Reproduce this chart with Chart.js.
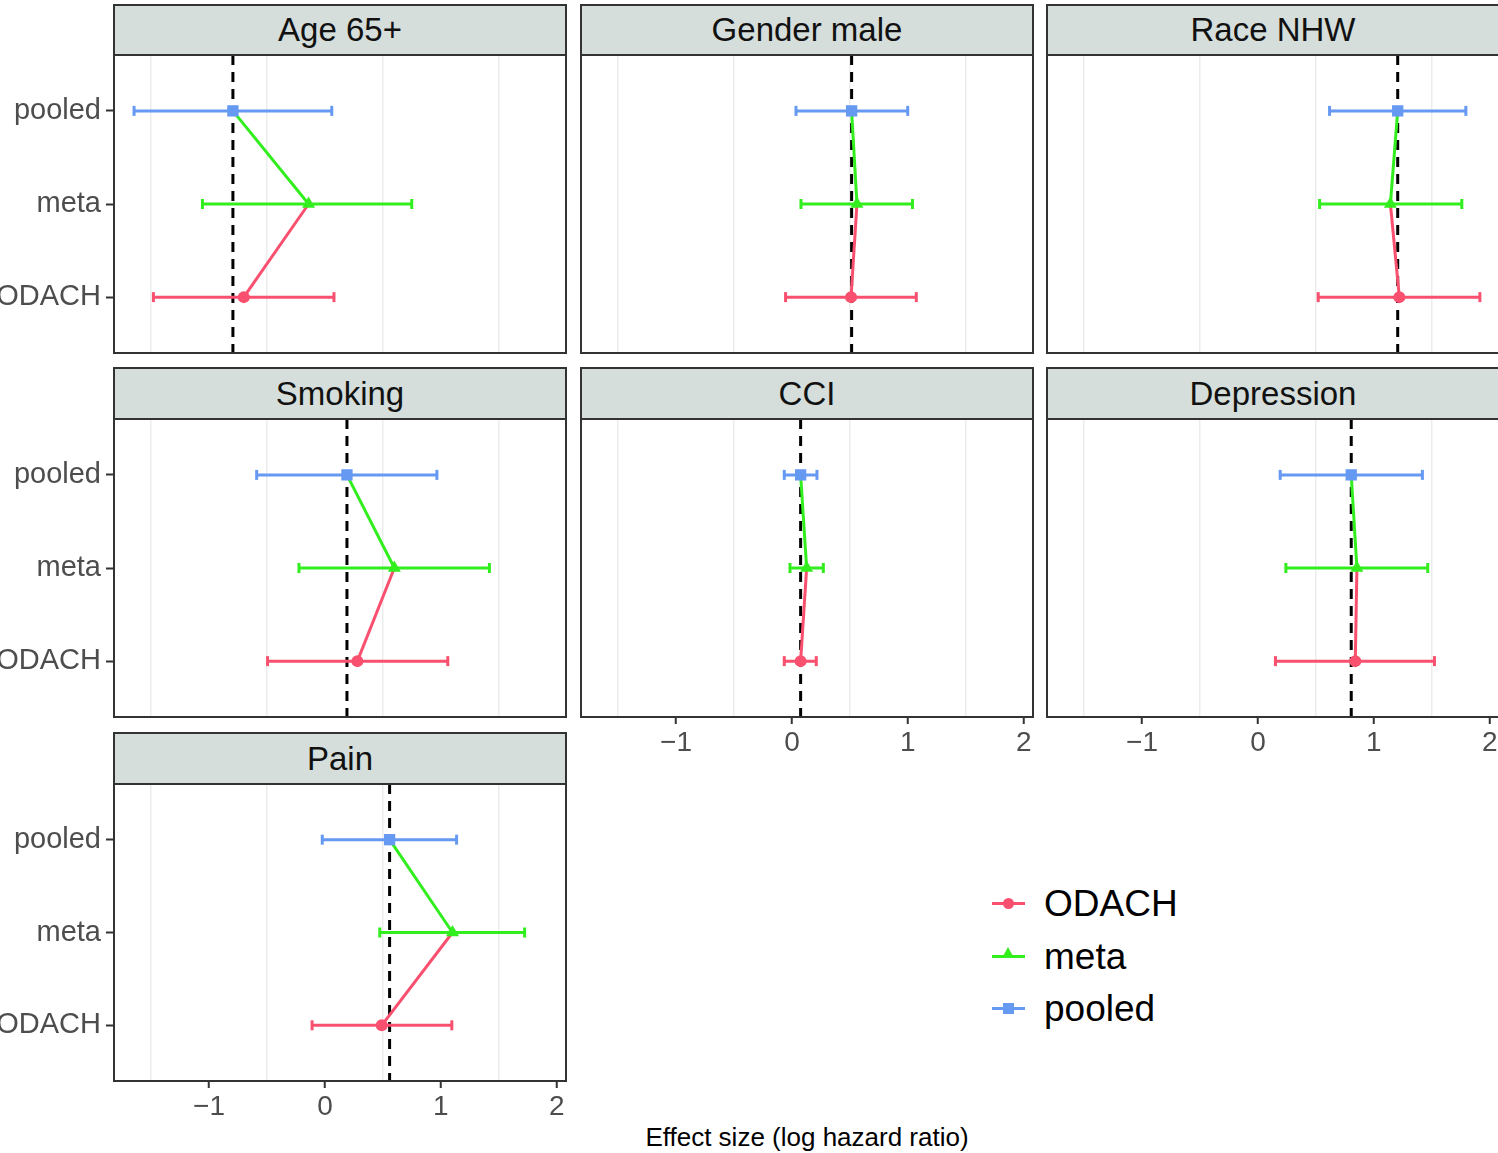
<!DOCTYPE html>
<html>
<head>
<meta charset="utf-8">
<script src="https://cdn.jsdelivr.net/npm/chart.js@4.4.1/dist/chart.umd.min.js"></script>
<style>
    body { margin: 0; background: #fff; width: 1498px; height: 1153px; position: relative; overflow: hidden;
           font-family: "Liberation Sans", Arial, sans-serif; }
    .strip { position: absolute; box-sizing: border-box; background: #D5DEDB; border: 2px solid #333;
             text-align: center; font-size: 33px; color: #111; }
    .panel { position: absolute; }
    .legend { position: absolute; left: 992px; top: 878px; }
    .legend .row { position: relative; height: 52.5px; }
    .legend .key { position: absolute; left: 0; top: 24px; width: 33px; height: 3px; }
    .legend .mk { position: absolute; }
    .legend .txt { position: absolute; left: 52px; top: 4px; font-size: 37px; color: #000; line-height: 44px; }
    .xtitle { position: absolute; left: 581px; width: 452px; top: 1122px; text-align: center; font-size: 26px; color: #000; }
</style>
</head>
<body>
<div class="legend" id="legend"></div>
<div class="xtitle">Effect size (log hazard ratio)</div>
<script>
document.addEventListener('DOMContentLoaded', function () {

    // Datos (log hazard ratio)
    const panelNames = ['Age 65+', 'Gender male', 'Race NHW', 'Smoking', 'CCI', 'Depression', 'Pain'];
    const methods    = ['pooled', 'meta', 'ODACH'];
    const xTicks     = [-1.5, -1, -0.5, 0, 0.5, 1, 1.5, 2];

    const odachEst  = [-0.70,  0.51,  1.22,  0.28,  0.075, 0.84,  0.49];
    const odachLo   = [-1.48, -0.055, 0.52, -0.495, -0.066, 0.151, -0.111];
    const odachHi   = [ 0.078, 1.073, 1.915, 1.06,  0.21,  1.523,  1.095];

    const metaEst   = [-0.141, 0.561, 1.143, 0.599, 0.127, 0.854, 1.101];
    const metaLo    = [-1.057, 0.078, 0.532, -0.224, -0.017, 0.241, 0.473];
    const metaHi    = [ 0.749, 1.04,  1.759, 1.419, 0.271, 1.465, 1.723];

    const pooledEst = [-0.794, 0.515, 1.206, 0.19,  0.075, 0.805, 0.558];
    const pooledLo  = [-1.647, 0.035, 0.618, -0.589, -0.066, 0.192, -0.023];
    const pooledHi  = [ 0.059, 0.999, 1.794, 0.966, 0.216, 1.419, 1.136];

    const red   = '#F8506E';
    const green = '#33EE1E';
    const blue  = '#6699F2';

    // Layout de facetas
    const colLeft    = [114, 581, 1047];
    const stripTop   = [4, 367, 732];
    const plotTop    = [55, 419, 784];
    const plotBottom = [353, 717, 1081];
    const plotW = 452;

    Chart.defaults.font.family = '"Liberation Sans", Arial, sans-serif';
    Chart.defaults.animation = false;

    const panelBorder = {
        id: 'panelBorder',
        afterDatasetsDraw: function (chart) {
            const a = chart.chartArea;
            const ctx = chart.ctx;
            ctx.save();
            ctx.strokeStyle = '#333';
            ctx.lineWidth = 2;
            ctx.strokeRect(a.left, a.top, a.right - a.left, a.bottom - a.top);
            ctx.restore();
        }
    };

    function errorBar(lo, hi, y, color) {
        return {
            data: [{ x: lo, y: y }, { x: hi, y: y }],
            showLine: true,
            borderColor: color,
            borderWidth: 3,
            pointStyle: 'line',
            pointRotation: 90,
            pointRadius: 5,
            pointBorderWidth: 3,
            pointBorderColor: color,
            order: 1
        };
    }

    function point(x, y, color, style, r) {
        return {
            data: [{ x: x, y: y }],
            pointStyle: style,
            pointRadius: r,
            backgroundColor: color,
            borderColor: color,
            pointBorderWidth: 0,
            order: 0
        };
    }

    panelNames.forEach(function (name, i) {
        const col = i % 3;
        const row = Math.floor(i / 3);
        const isLeft = col === 0;
        const isBottom = i >= 4;

        // Encabezado (strip)
        const strip = document.createElement('div');
        strip.className = 'strip';
        strip.style.left = (colLeft[col] - 1) + 'px';
        strip.style.width = (plotW + 2) + 'px';
        strip.style.top = stripTop[row] + 'px';
        const sh = plotTop[row] - stripTop[row] + 1;
        strip.style.height = sh + 'px';
        strip.style.lineHeight = (sh - 4) + 'px';
        strip.textContent = name;
        document.body.appendChild(strip);

        const leftM = isLeft ? 114 : 4;
        const botM = isBottom ? 50 : 4;
        const w = plotW + leftM + 4;
        const h = plotBottom[row] - plotTop[row] + 4 + botM;

        const wrap = document.createElement('div');
        wrap.className = 'panel';
        wrap.style.left = (colLeft[col] - leftM) + 'px';
        wrap.style.top = (plotTop[row] - 4) + 'px';
        wrap.style.width = w + 'px';
        wrap.style.height = h + 'px';
        const canvas = document.createElement('canvas');
        canvas.width = w;
        canvas.height = h;
        wrap.appendChild(canvas);
        document.body.appendChild(wrap);

        const ref = pooledEst[i];

        new Chart(canvas, {
            type: 'scatter',
            data: {
                datasets: [
                    point(odachEst[i], 3, red, 'circle', 6),
                    point(metaEst[i], 2, green, 'triangle', 7.5),
                    point(pooledEst[i], 1, blue, 'rect', 8),
                    errorBar(odachLo[i], odachHi[i], 3, red),
                    errorBar(metaLo[i], metaHi[i], 2, green),
                    errorBar(pooledLo[i], pooledHi[i], 1, blue),
                    {
                        data: [{ x: odachEst[i], y: 3 }, { x: metaEst[i], y: 2 }],
                        showLine: true, borderColor: red, borderWidth: 3, pointRadius: 0, order: 2
                    },
                    {
                        data: [{ x: metaEst[i], y: 2 }, { x: pooledEst[i], y: 1 }],
                        showLine: true, borderColor: green, borderWidth: 3, pointRadius: 0, order: 2
                    },
                    {
                        data: [{ x: ref, y: 0.4 }, { x: ref, y: 3.6 }],
                        showLine: true, borderColor: '#000', borderWidth: 3,
                        borderDash: [10, 7], pointRadius: 0, order: 3
                    }
                ]
            },
            options: {
                responsive: false,
                events: [],
                layout: {
                    autoPadding: false,
                    padding: { left: isLeft ? 0 : 4, right: 4, top: 4, bottom: isBottom ? 0 : 4 }
                },
                plugins: { legend: { display: false }, tooltip: { enabled: false } },
                scales: {
                    x: {
                        type: 'linear',
                        min: -1.82,
                        max: 2.08,
                        afterBuildTicks: function (s) {
                            s.ticks = xTicks.map(function (v) { return { value: v }; });
                        },
                        afterFit: function (s) {
                            s.height = isBottom ? 50 : 0;
                            s.paddingLeft = 0; s.paddingRight = 0;
                        },
                        border: { display: false },
                        grid: {
                            drawTicks: isBottom,
                            tickLength: 7,
                            lineWidth: 1.5,
                            tickWidth: 2,
                            color: function (c) {
                                return c.tick && !Number.isInteger(c.tick.value) ? '#EBEDED' : 'rgba(0,0,0,0)';
                            },
                            tickColor: function (c) {
                                return c.tick && Number.isInteger(c.tick.value) ? '#333' : 'rgba(0,0,0,0)';
                            }
                        },
                        ticks: {
                            display: isBottom,
                            autoSkip: false,
                            maxRotation: 0,
                            padding: 2,
                            color: '#4D4D4D',
                            font: { size: 28 },
                            callback: function (v) {
                                if (!Number.isInteger(v)) return '';
                                return v < 0 ? '\u2212' + Math.abs(v) : String(v);
                            }
                        }
                    },
                    y: {
                        type: 'linear',
                        display: isLeft,
                        min: 0.4,
                        max: 3.6,
                        reverse: true,
                        afterBuildTicks: function (s) {
                            s.ticks = [1, 2, 3].map(function (v) { return { value: v }; });
                        },
                        afterFit: function (s) {
                            s.width = isLeft ? 114 : 0;
                            s.paddingTop = 0; s.paddingBottom = 0;
                        },
                        border: { display: false },
                        grid: {
                            drawOnChartArea: false,
                            drawTicks: true,
                            tickLength: 8,
                            tickWidth: 2,
                            tickColor: '#333'
                        },
                        ticks: {
                            padding: 5,
                            color: '#4D4D4D',
                            font: { size: 29 },
                            callback: function (v) { return methods[v - 1]; }
                        }
                    }
                }
            },
            plugins: [panelBorder]
        });
    });

    // Leyenda
    const legendItems = [
        { label: 'ODACH', color: red, shape: 'circle' },
        { label: 'meta', color: green, shape: 'triangle' },
        { label: 'pooled', color: blue, shape: 'square' }
    ];
    const legend = document.getElementById('legend');
    legendItems.forEach(function (it) {
        const rowEl = document.createElement('div');
        rowEl.className = 'row';
        let mk;
        if (it.shape === 'circle') {
            mk = '<div class="mk" style="left:11px;top:20px;width:11px;height:11px;border-radius:50%;background:' + it.color + '"></div>';
        } else if (it.shape === 'triangle') {
            mk = '<div class="mk" style="left:10px;top:16px;width:0;height:0;border-left:6.5px solid transparent;border-right:6.5px solid transparent;border-bottom:11px solid ' + it.color + '"></div>';
        } else {
            mk = '<div class="mk" style="left:11px;top:20px;width:11px;height:11px;background:' + it.color + '"></div>';
        }
        rowEl.innerHTML = '<div class="key" style="background:' + it.color + '"></div>' + mk +
            '<div class="txt">' + it.label + '</div>';
        legend.appendChild(rowEl);
    });
});
</script>
</body>
</html>
